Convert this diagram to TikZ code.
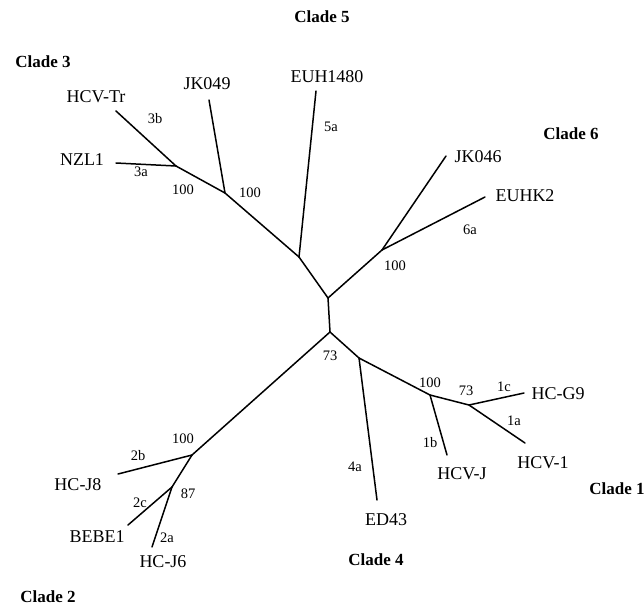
\documentclass[tikz,border=0pt]{standalone}
\usepackage{fontspec}
\setmainfont{Liberation Serif}
\begin{document}
\begin{tikzpicture}[x=1pt,y=-1pt,
  branch/.style={line width=1.5pt,line cap=round},
  leaf/.style={font=\fontsize{18}{20}\selectfont,inner sep=0pt},
  small/.style={font=\fontsize{14.5}{16}\selectfont,inner sep=0pt},
  clade/.style={font=\fontsize{17}{20}\selectfont\bfseries,inner sep=0pt}]
\useasboundingbox (0,0) rectangle (644,606);
% junctions and tips
\coordinate (c1) at (328,298);
\coordinate (c2) at (330,332);
\coordinate (j5) at (299,257);
\coordinate (j3b) at (225,193);
\coordinate (j3) at (176,166);
\coordinate (tTr) at (116,111);
\coordinate (tNZ) at (116,163);
\coordinate (tJKa) at (209,100);
\coordinate (tEUH) at (316,91);
\coordinate (j6) at (382,250);
\coordinate (tJKb) at (446,156);
\coordinate (tEUHK) at (485,197);
\coordinate (j4) at (359,358);
\coordinate (tED) at (377,500);
\coordinate (j1) at (430,395);
\coordinate (tHJ) at (447,455);
\coordinate (j1a) at (469,405);
\coordinate (tG9) at (524,393);
\coordinate (tH1) at (525,443);
\coordinate (j2) at (192,455);
\coordinate (tJ8) at (118,474);
\coordinate (j2a) at (172,487);
\coordinate (tBE) at (128,525);
\coordinate (tJ6) at (152,547);
% branches
\draw[branch] (c1) -- (c2);
\draw[branch] (c1) -- (j5);
\draw[branch] (j5) -- (tEUH);
\draw[branch] (j5) -- (j3b);
\draw[branch] (j3b) -- (tJKa);
\draw[branch] (j3b) -- (j3);
\draw[branch] (j3) -- (tTr);
\draw[branch] (j3) -- (tNZ);
\draw[branch] (c1) -- (j6);
\draw[branch] (j6) -- (tJKb);
\draw[branch] (j6) -- (tEUHK);
\draw[branch] (c2) -- (j4);
\draw[branch] (j4) -- (tED);
\draw[branch] (j4) -- (j1);
\draw[branch] (j1) -- (tHJ);
\draw[branch] (j1) -- (j1a);
\draw[branch] (j1a) -- (tG9);
\draw[branch] (j1a) -- (tH1);
\draw[branch] (c2) -- (j2);
\draw[branch] (j2) -- (tJ8);
\draw[branch] (j2) -- (j2a);
\draw[branch] (j2a) -- (tBE);
\draw[branch] (j2a) -- (tJ6);
% clade labels
\node[clade] (cl3) at (43,62) {Clade 3};
\node[clade] (cl5) at (322,17) {Clade 5};
\node[clade] (cl6) at (571,134) {Clade 6};
\node[clade] (cl1) at (617,489) {Clade 1};
\node[clade] (cl4) at (376,560) {Clade 4};
\node[clade] (cl2) at (48,597) {Clade 2};
% leaf labels
\node[leaf] (lTr) at (96,97) {HCV-Tr};
\node[leaf] (lNZ) at (82,160) {NZL1};
\node[leaf] (lJKa) at (207,84) {JK049};
\node[leaf] (lEUH) at (327,77) {EUH1480};
\node[leaf] (lJKb) at (478,157) {JK046};
\node[leaf] (lEUHK) at (525,196) {EUHK2};
\node[leaf] (lG9) at (558,394) {HC-G9};
\node[leaf] (lH1) at (543,463) {HCV-1};
\node[leaf] (lHJ) at (462,474) {HCV-J};
\node[leaf] (lED) at (386,520) {ED43};
\node[leaf] (lJ8) at (78,485) {HC-J8};
\node[leaf] (lBE) at (97,537) {BEBE1};
\node[leaf] (lJ6) at (163,562) {HC-J6};
% subtype and bootstrap labels
\node[small] (s3b) at (155,119) {3b};
\node[small] (s3a) at (141,172) {3a};
\node[small] (b3) at (183,190) {100};
\node[small] (b3b) at (250,193) {100};
\node[small] (s5a) at (331,127) {5a};
\node[small] (s6a) at (470,230) {6a};
\node[small] (b6) at (395,266) {100};
\node[small] (b0) at (330,356) {73};
\node[small] (b1) at (430,383) {100};
\node[small] (b1a) at (466,391) {73};
\node[small] (s1c) at (504,387) {1c};
\node[small] (s1a) at (514,421) {1a};
\node[small] (s1b) at (430,443) {1b};
\node[small] (s4a) at (355,467) {4a};
\node[small] (b2) at (183,439) {100};
\node[small] (s2b) at (138,456) {2b};
\node[small] (s2c) at (140,503) {2c};
\node[small] (b2a) at (188,494) {87};
\node[small] (s2a) at (167,538) {2a};
\end{tikzpicture}
\end{document}
